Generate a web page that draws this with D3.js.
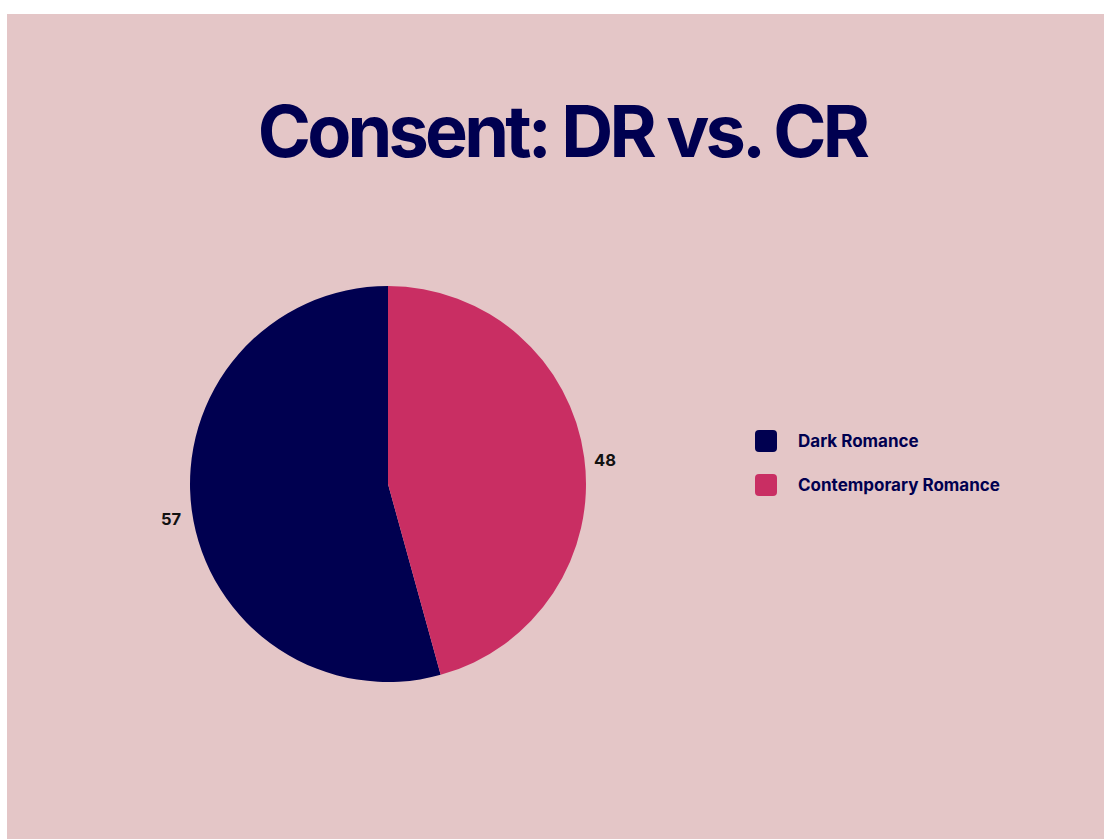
<!DOCTYPE html>
<html>
<head>
<meta charset="utf-8">
<script src="https://cdn.jsdelivr.net/npm/d3@7"></script>
<style>
  html, body { margin: 0; padding: 0; background: #ffffff; }
  svg { display: block; }
</style>
</head>
<body>
<script>
// Consent scores by genre
const categories = ["Dark Romance", "Contemporary Romance"];
const values = [57, 48];
const colors = ["#000050", "#C92E63"];
const title = "Consent: DR vs. CR";

const W = 1104, H = 839;
const svg = d3.select("body").append("svg").attr("width", W).attr("height", H);

// panel background
svg.append("rect").attr("x", 7).attr("y", 14).attr("width", W - 7).attr("height", H - 14)
  .attr("fill", "#E4C6C7");

svg.append("text")
  .attr("x", 562).attr("y", 157)
  .attr("text-anchor", "middle")
  .attr("font-family", "Inter, 'Noto Sans', sans-serif")
  .attr("font-weight", 700)
  .attr("font-size", 72)
  .attr("letter-spacing", -3.8)
  .attr("fill", "#000050")
  .text(title);

const data = categories.map((c, i) => ({ name: c, value: values[i], color: colors[i] }));

// Contemporary Romance is drawn first, clockwise from 12 o'clock
const drawOrder = [1, 0];
const pie = d3.pie().value(d => d.value).sort((a, b) => drawOrder.indexOf(data.indexOf(a)) - drawOrder.indexOf(data.indexOf(b)));
const arcs = pie(data);

const cx = 388, cy = 484, r = 198;
const g = svg.append("g").attr("transform", `translate(${cx},${cy})`);
const arc = d3.arc().innerRadius(0).outerRadius(r);
g.selectAll("path").data(arcs).join("path")
  .attr("d", arc)
  .attr("fill", d => d.data.color);

const labelArc = d3.arc().innerRadius(219).outerRadius(219);
g.selectAll("text.val").data(arcs).join("text")
  .attr("class", "val")
  .attr("transform", d => `translate(${labelArc.centroid(d)})`)
  .attr("text-anchor", "middle")
  .attr("y", 6)
  .attr("dy", "0.35em")
  .attr("font-family", "Inter, 'Noto Sans', sans-serif")
  .attr("font-weight", 700)
  .attr("font-size", 16.5)
  .attr("fill", "#111111")
  .text(d => d.data.value);

// legend
const legend = svg.append("g").attr("transform", "translate(755,430)");
const item = legend.selectAll("g").data(data).join("g")
  .attr("transform", (d, i) => `translate(0,${i * 44})`);
item.append("rect").attr("width", 22).attr("height", 22).attr("rx", 4)
  .attr("fill", d => d.color);
item.append("text").attr("x", 43).attr("y", 11).attr("dy", "0.35em")
  .attr("font-family", "Inter, 'Noto Sans', sans-serif")
  .attr("font-weight", 700)
  .attr("font-size", 17)
  .attr("letter-spacing", 0)
  .attr("fill", "#000050")
  .text(d => d.name);
</script>
</body>
</html>
